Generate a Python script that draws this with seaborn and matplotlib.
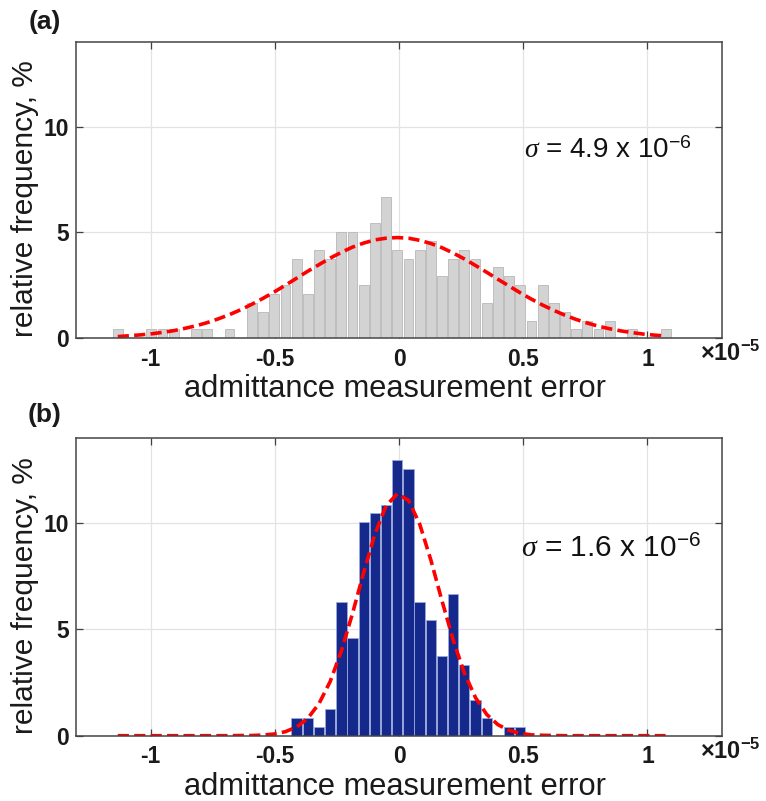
import numpy as np
import matplotlib
matplotlib.use("Agg")
import matplotlib.pyplot as plt
import seaborn as sns

# ---------------- data (x in units of 1e-5) ----------------
bin_centers = [-1.132, -1.087, -1.042, -0.997, -0.952, -0.907, -0.862, -0.817, -0.772, -0.727,
               -0.682, -0.637, -0.592, -0.547, -0.502, -0.457, -0.412, -0.367, -0.322, -0.277,
               -0.232, -0.187, -0.142, -0.097, -0.052, -0.007, 0.038, 0.083, 0.128, 0.173,
               0.218, 0.263, 0.308, 0.353, 0.398, 0.443, 0.488, 0.533, 0.578, 0.623,
               0.668, 0.713, 0.758, 0.803, 0.848, 0.893, 0.938, 0.983, 1.028, 1.073]
bin_width = 0.045

# panel (a): relative frequency, %
freq_a = [0.42, 0, 0, 0.42, 0.42, 0.42, 0, 0.42, 0.42, 0,
          0.42, 0, 1.67, 1.26, 2.09, 2.51, 3.77, 2.09, 4.18, 3.77,
          5.02, 5.02, 2.51, 5.44, 6.69, 4.18, 3.77, 4.18, 4.60, 2.93,
          3.77, 4.18, 3.77, 1.67, 3.35, 2.93, 2.51, 0.84, 2.51, 1.67,
          1.26, 0.42, 0.84, 0.42, 0.84, 0, 0.42, 0, 0, 0.42]
# fitted normal curve of panel (a), read at the bin centres
fit_a = [0.08, 0.12, 0.16, 0.21, 0.28, 0.36, 0.47, 0.59, 0.74, 0.92,
         1.12, 1.35, 1.61, 1.89, 2.19, 2.51, 2.84, 3.17, 3.48, 3.79,
         4.06, 4.31, 4.50, 4.65, 4.73, 4.76, 4.73, 4.63, 4.48, 4.28,
         4.03, 3.75, 3.44, 3.12, 2.79, 2.47, 2.15, 1.85, 1.57, 1.32,
         1.09, 0.89, 0.72, 0.57, 0.45, 0.35, 0.27, 0.20, 0.15, 0.11]

# panel (b)
freq_b = [0, 0, 0, 0, 0, 0, 0, 0, 0, 0,
          0, 0, 0, 0, 0, 0, 0.84, 0.84, 0.42, 1.26,
          6.28, 4.60, 10.04, 10.46, 10.88, 12.97, 12.55, 6.28, 5.44, 3.77,
          6.69, 3.35, 1.67, 0.84, 0, 0.42, 0.42, 0, 0, 0,
          0, 0, 0, 0, 0, 0, 0, 0, 0, 0]
fit_b = [0, 0, 0, 0, 0, 0, 0, 0, 0, 0,
         0, 0.01, 0.01, 0.03, 0.08, 0.19, 0.41, 0.82, 1.51, 2.55,
         3.99, 5.76, 7.69, 9.49, 10.82, 11.39, 11.08, 9.97, 8.28, 6.35,
         4.51, 2.95, 1.79, 1.00, 0.52, 0.25, 0.11, 0.04, 0.02, 0.01,
         0, 0, 0, 0, 0, 0, 0, 0, 0, 0]

sigma_labels = [r"$\sigma$ = 4.9 x 10$^{-6}$", r"$\sigma$ = 1.6 x 10$^{-6}$"]
panel_labels = ["(a)", "(b)"]
x_ticks = [-1, -0.5, 0, 0.5, 1]
x_tick_labels = ["-1", "-0.5", "0", "0.5", "1"]
y_ticks = [0, 5, 10]
y_tick_labels = ["0", "5", "10"]
x_label = "admittance measurement error"
y_label = "relative frequency, %"
offset_label = r"$\mathbf{\times 10^{-5}}$"

# ---------------- style ----------------
sns.set_style("white")
plt.rcParams["font.family"] = ["Liberation Sans", "DejaVu Sans"]
plt.rcParams["mathtext.fontset"] = "custom"
plt.rcParams["mathtext.rm"] = "Liberation Sans"
plt.rcParams["mathtext.it"] = "Liberation Serif:italic"
plt.rcParams["mathtext.bf"] = "Liberation Sans:bold"

fig = plt.figure(figsize=(7.66, 8.01), dpi=100)
W, H = 766, 801
ax_a = fig.add_axes([76 / W, 1 - 338.3 / H, 646 / W, 296.3 / H])
ax_b = fig.add_axes([76 / W, 1 - 735.7 / H, 646 / W, 297.4 / H])

edges = (np.append(np.array(bin_centers) - bin_width / 2,
                   bin_centers[-1] + bin_width / 2)).tolist()

panels = [
    (ax_a, freq_a, fit_a, "#d3d3d3", "#b8b8b8", 0.88, (0.504, 8.85), 20),
    (ax_b, freq_b, fit_b, "#15288b", "#9aa8dc", 0.92, (0.49, 8.77), 21.5),
]

for i, (ax, freq, fit, fc, ec, shrink, txy, sfs) in enumerate(panels):
    ax.set_axisbelow(True)
    ax.grid(True, color="#e3e3e3", linewidth=0.9)
    sns.histplot(x=bin_centers, weights=freq, bins=edges, stat="count",
                 shrink=shrink, color=fc, edgecolor=ec, linewidth=0.6,
                 alpha=1, ax=ax)
    sns.lineplot(x=bin_centers, y=fit, color="#ff0000", linewidth=2.6,
                 linestyle=(0, (3.1, 1.45)), ax=ax)
    ax.set_xlim(-1.3, 1.3)
    ax.set_ylim(0, 14)
    ax.set_xticks(x_ticks, x_tick_labels)
    ax.set_yticks(y_ticks, y_tick_labels)
    ax.tick_params(axis="both", which="major", direction="in", length=5,
                   width=0.9, color="#404040", labelsize=16.5,
                   labelcolor="#1a1a1a", top=True, right=True,
                   bottom=True, left=True)
    ax.tick_params(axis="x", pad=7)
    ax.tick_params(axis="y", pad=5)
    for lab in ax.get_xticklabels() + ax.get_yticklabels():
        lab.set_fontweight("bold")
    for sp in ax.spines.values():
        sp.set_visible(True)
        sp.set_color("#454545")
        sp.set_linewidth(1.1)
    ax.set_xlabel(x_label, fontsize=22.2, color="#1a1a1a")
    ax.xaxis.set_label_coords(0.494, -0.122)
    ax.set_ylabel(y_label, fontsize=21.5, color="#1a1a1a")
    ax.yaxis.set_label_coords(-0.058, 0.47)
    ax.text(txy[0], txy[1], sigma_labels[i], fontsize=sfs, color="#111111",
            ha="left", va="center")
    ax.text(0.966, -0.052, offset_label, transform=ax.transAxes, fontsize=17,
            ha="left", va="center", color="#1a1a1a")

fig.text(45 / W, 1 - 22 / H, panel_labels[0], fontsize=19, fontweight="bold",
         ha="center", va="center", color="#1a1a1a")
fig.text(45 / W, 1 - 415 / H, panel_labels[1], fontsize=19, fontweight="bold",
         ha="center", va="center", color="#1a1a1a")

fig.savefig("out.png", dpi=100)
